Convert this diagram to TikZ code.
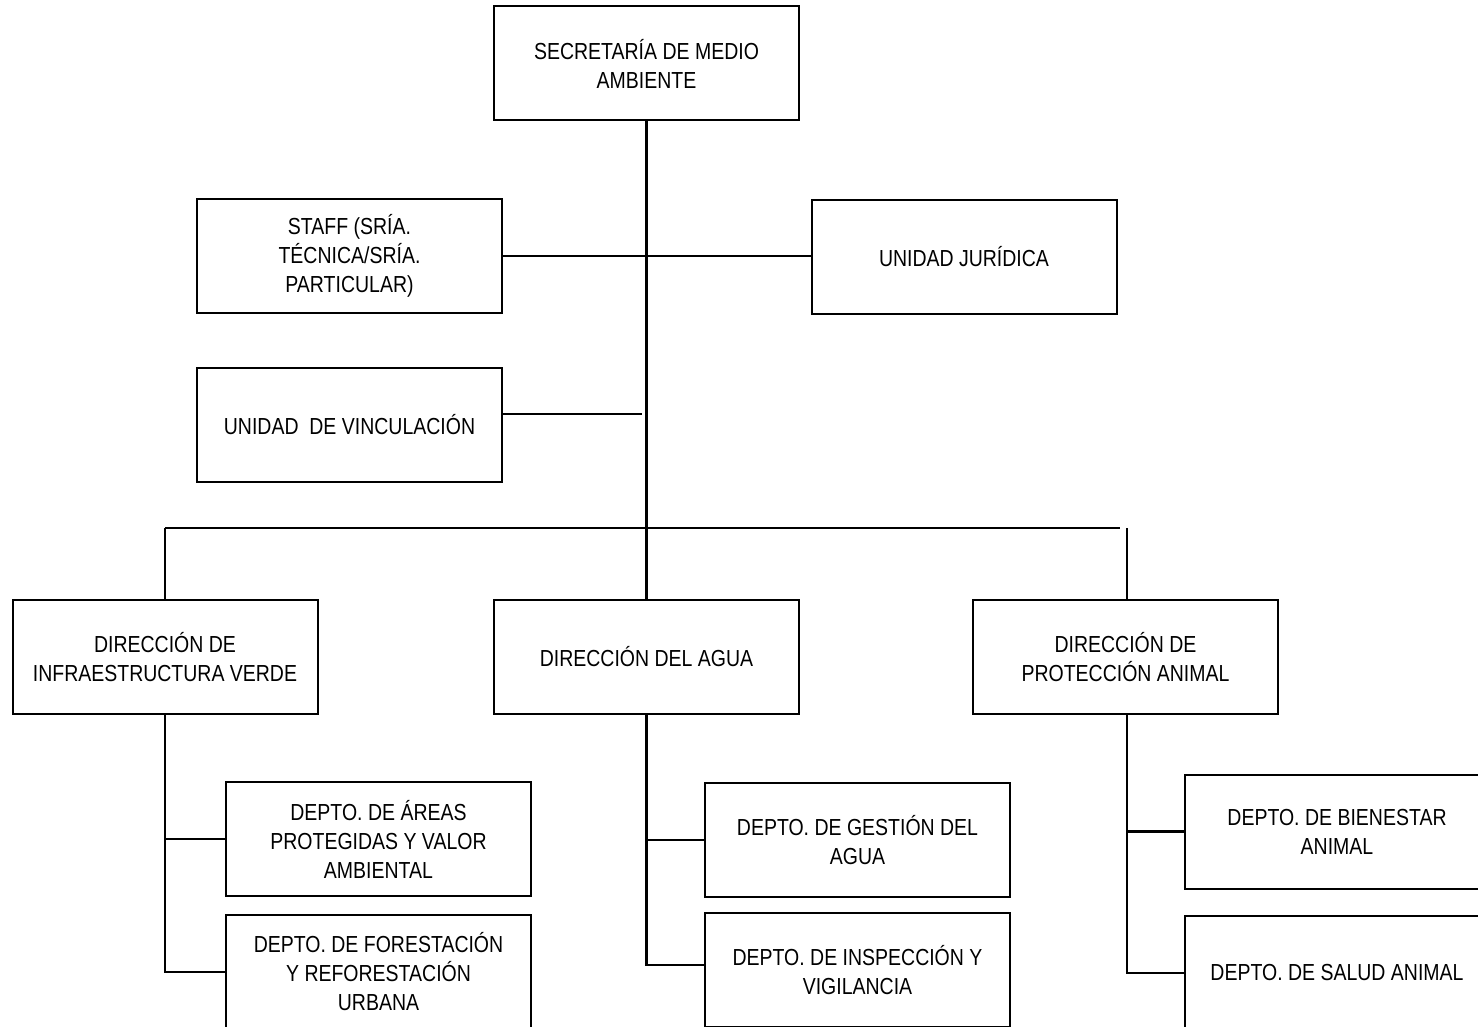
\documentclass[tikz,border=0pt]{standalone}
\usepackage{fontspec}
\setmainfont{Liberation Sans}[FakeStretch=0.84]
\usetikzlibrary{positioning,calc}
\tikzset{ 
    unit/.style={
        rectangle,
        draw=black,
        line width=1pt,
        align=center,
        inner sep=0pt,
        minimum width=152.5pt,
        minimum height=57pt,
        font=\fontsize{11.6}{14.5}\selectfont,
    },
    link/.style={
        draw=black,
        line width=1.25pt,
    },
}
\begin{document}
\begin{tikzpicture}[x=0.5pt,y=-0.5pt]
    \useasboundingbox (0,0) rectangle (1478,1027);
    \clip (0,0) rectangle (1478,1027);
    \node [unit] (sec) at (646.5,63.5) {SECRETARÍA DE MEDIO\\AMBIENTE};
    \node [unit] (staff) at (349.5,256) {STAFF (SRÍA.\\TÉCNICA/SRÍA.\\PARTICULAR)};
    \node [unit] (jur) at (964,257) {UNIDAD JURÍDICA};
    \node [unit] (vinc) at (349.5,425) {UNIDAD\ \ DE VINCULACIÓN};
    \node [unit] (dinf) at (165,657) {DIRECCIÓN DE\\INFRAESTRUCTURA VERDE};
    \node [unit] (dagua) at (646.5,657) {DIRECCIÓN DEL AGUA};
    \node [unit] (dprot) at (1125.5,657) {DIRECCIÓN DE\\PROTECCIÓN ANIMAL};
    \node [unit] (areas) at (378.5,839) {DEPTO. DE ÁREAS\\PROTEGIDAS Y VALOR\\AMBIENTAL};
    \node [unit] (fores) at (378.5,972) {DEPTO. DE FORESTACIÓN\\Y REFORESTACIÓN\\URBANA};
    \node [unit] (gest) at (857.5,840) {DEPTO. DE GESTIÓN DEL\\AGUA};
    \node [unit] (insp) at (857.5,970) {DEPTO. DE INSPECCIÓN Y\\VIGILANCIA};
    \node [unit] (bien) at (1337,831.5) {DEPTO. DE BIENESTAR\\ANIMAL};
    \node [unit] (salud) at (1337,973) {DEPTO. DE SALUD ANIMAL};
    \coordinate (vinc-end) at (642,414);
    \coordinate (bus-left) at (165,528);
    \coordinate (bus-right) at (1120,528);
    \coordinate (prot-top) at (1127,528);
    \path[link] (sec.south) -- (dagua.north);
    \path[link] (staff.east) -- (staff.east -| jur.west);
    \path[link] (vinc.east |- vinc-end) -- (vinc-end);
    \path[link] (bus-left) -- (bus-right);
    \path[link] (bus-left) -- (dinf.north);
    \path[link] (prot-top) -- (prot-top |- dprot.north);
    \path[link] (dinf.south) |- (fores.west);
    \path[link] (dinf.south |- areas.west) -- (areas.west);
    \path[link] (dagua.south) |- ($(insp.west)+(0,-5)$);
    \path[link] (dagua.south |- gest.west) -- (gest.west);
    \path[link] (prot-top |- dprot.south) |- (salud.west);
    \path[link] (prot-top |- bien.west) -- (bien.west);
\end{tikzpicture}
\end{document}
